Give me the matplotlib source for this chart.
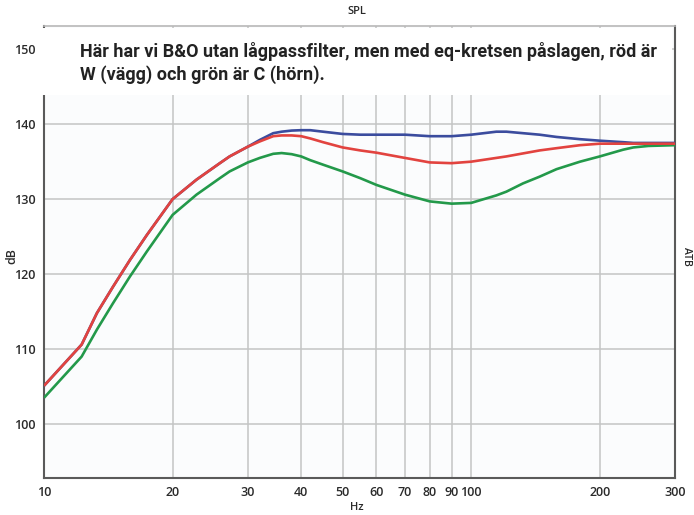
import matplotlib
matplotlib.use("Agg")
import matplotlib.pyplot as plt
from matplotlib.patches import Rectangle

# ---- data ----
freq_hz = [10, 12.25, 13.3, 14.5, 15.9, 17.4, 20, 22.75, 25.8, 27.2, 30, 32, 34.4, 36, 38, 40, 42, 45,
           50, 55, 60, 70, 80, 90, 100, 114.5, 120.9, 132.2, 144.6, 158.4, 179.8, 200,
           226.9, 239.6, 260, 300]
blue_db = [105.1, 110.6, 114.8, 118.3, 121.9, 125.2, 130.0, 132.6, 134.8, 135.7, 137.0, 137.9, 138.8,
           139.0, 139.15, 139.2, 139.2, 139.0, 138.7, 138.6, 138.6, 138.6, 138.4, 138.4, 138.6, 139.0,
           139.0, 138.8, 138.6, 138.3, 138.0, 137.8, 137.6, 137.5, 137.5, 137.5]
red_db = [105.1, 110.6, 114.8, 118.3, 121.9, 125.2, 130.0, 132.6, 134.8, 135.7, 137.0, 137.7, 138.4,
          138.5, 138.5, 138.4, 138.1, 137.6, 136.9, 136.5, 136.2, 135.5, 134.9, 134.8, 135.0, 135.5,
          135.7, 136.1, 136.5, 136.8, 137.2, 137.4, 137.4, 137.4, 137.4, 137.4]
green_db = [103.5, 109.0, 112.6, 116.1, 119.7, 123.0, 127.9, 130.6, 132.8, 133.7, 134.9, 135.5, 136.05,
            136.15, 136.0, 135.7, 135.2, 134.6, 133.7, 132.8, 131.9, 130.6, 129.7, 129.4, 129.5, 130.5,
            131.0, 132.1, 133.0, 134.0, 135.0, 135.7, 136.6, 136.9, 137.1, 137.2]

x_ticks = [10, 20, 30, 40, 50, 60, 70, 80, 90, 100, 200, 300]
x_tick_labels = ["10", "20", "30", "40", "50", "60", "70", "80", "90", "100", "200", "300"]
y_ticks = [100, 110, 120, 130, 140, 150]
y_tick_labels = ["100", "110", "120", "130", "140", "150"]

title_text = "SPL"
note_text = "Här har vi B&O utan lågpassfilter, men med eq-kretsen påslagen, röd är\nW (vägg) och grön är C (hörn)."
x_label = "Hz"
y_label = "dB"
right_label = "ATB"

# ---- style ----
plt.rcParams['font.family'] = ['Open Sans', 'DejaVu Sans']
text_col = "#2a2a2a"

fig = plt.figure(figsize=(6.94, 5.15), dpi=100)
fig.patch.set_facecolor("white")
ax = fig.add_axes([44/694, 1-478/515, (675-44)/694, (478-26)/515])
ax.set_facecolor("#fbfcfd")

ax.plot(freq_hz, blue_db, color="#3b4c9e", lw=1.9, zorder=3, solid_capstyle="butt")
ax.plot(freq_hz, green_db, color="#23994a", lw=1.9, zorder=4, solid_capstyle="butt")
ax.plot(freq_hz, red_db, color="#e2433f", lw=1.9, zorder=5, solid_capstyle="butt")

ax.set_xscale("log")
ax.set_xlim(10, 300)
ax.set_ylim(92.8, 153.1)
ax.set_xticks(x_ticks)
ax.set_xticklabels(x_tick_labels)
ax.minorticks_off()
ax.set_yticks(y_ticks)
ax.set_yticklabels(y_tick_labels)
ax.tick_params(length=0, labelsize=9, labelcolor=text_col, pad=6)
for lab in ax.get_xticklabels() + ax.get_yticklabels():
    lab.set_fontweight("semibold")

ax.grid(True, color="#c4c4c4", lw=1.1, zorder=1)
ax.set_axisbelow(True)

for s in ["left", "bottom", "right"]:
    ax.spines[s].set_color("#5a5a5a")
    ax.spines[s].set_linewidth(1.5)
ax.spines["top"].set_color("#b8b8b8")
ax.spines["top"].set_linewidth(1.2)

# white note box covering top area
box_bottom = (478 - 95) / 452
box_top = (478 - 27.5) / 452
rect = Rectangle((-0.01, box_bottom), 1.006, box_top - box_bottom, transform=ax.transAxes,
                 facecolor="white", edgecolor="none", zorder=10, clip_on=False)
ax.add_patch(rect)
ax.text(36/631, (478 - 42)/452, note_text, transform=ax.transAxes, ha="left", va="top",
        fontsize=13, fontweight="bold", color="#222222", zorder=11, linespacing=1.3,
        family=["Roboto", "DejaVu Sans"])

fig.text(357/694, 1 - 11/515, title_text, ha="center", va="center", fontsize=8,
         fontweight="semibold", color=text_col)
fig.text(357/694, 1 - 507/515, x_label, ha="center", va="center", fontsize=8,
         fontweight="semibold", color=text_col)
fig.text(12/694, 1 - 256/515, y_label, ha="center", va="center", fontsize=9,
         fontweight="semibold", color=text_col, rotation=90)
fig.text(687/694, 1 - 256/515, right_label, ha="center", va="center", fontsize=7.5,
         fontweight="semibold", color=text_col, rotation=-90)

fig.savefig("out.png", dpi=100, facecolor="white")
